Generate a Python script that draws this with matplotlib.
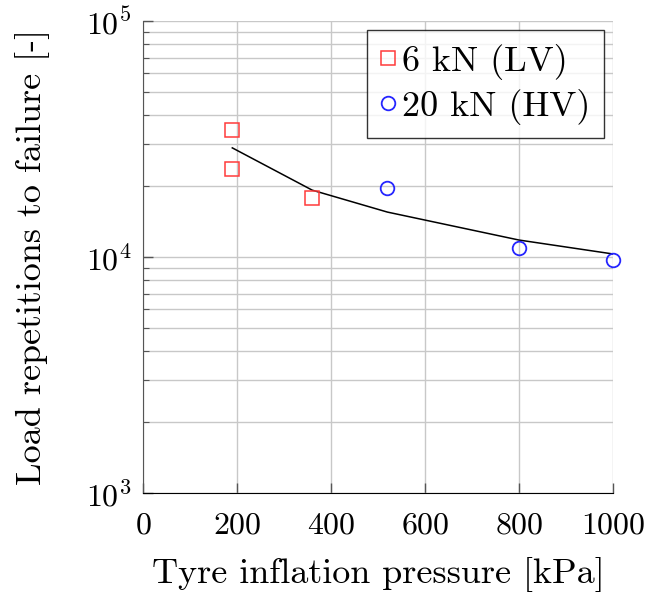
import numpy as np
import matplotlib
matplotlib.use("Agg")
import matplotlib.pyplot as plt
from matplotlib.ticker import LogLocator


# measured points
lv_pressure = [190, 190, 360]
lv_reps = [34500, 23600, 17700]
hv_pressure = [520, 800, 1000]
hv_reps = [19700, 10900, 9700]

# fitted curve
fit_pressure = [190, 360, 520, 800, 1000]
fit_reps = [29000, 19200, 15500, 11800, 10300]

plt.rcParams["font.family"] = "cmr10"
plt.rcParams["mathtext.fontset"] = "cm"
plt.rcParams["axes.formatter.use_mathtext"] = True

fig = plt.figure(figsize=(6.53, 5.99), dpi=100)
ax = fig.add_axes([143/653, 1 - 493/599, 470/653, 472/599])

grid_col = "#c8c8c8"
ax.set_yscale("log")
ax.set_xlim(0, 1000)
ax.set_ylim(1e3, 1e5)
ax.yaxis.set_minor_locator(LogLocator(base=10, subs=np.arange(2, 10)))
ax.set_xticks([0, 200, 400, 600, 800, 1000])
ax.grid(True, which="major", color=grid_col, lw=1)
ax.grid(True, which="minor", axis="y", color=grid_col, lw=1)
ax.set_axisbelow(True)

ax.plot(fit_pressure, fit_reps, color="black", lw=1.1, zorder=3)
ax.plot(lv_pressure, lv_reps, ls="none", marker="s", ms=9.5, mfc="none",
        mec="#ff3b3b", mew=1.1, label="6 kN (LV)", zorder=4, clip_on=False)
ax.plot(hv_pressure, hv_reps, ls="none", marker="o", ms=9.8, mfc="none",
        mec="#2525ff", mew=1.3, label="20 kN (HV)", zorder=4, clip_on=False)

for s in ["top", "right"]:
    ax.spines[s].set_visible(False)
ax.spines["left"].set_color("#555555")
ax.spines["bottom"].set_color("black")
ax.tick_params(which="both", direction="in", labelsize=23, colors="#555555",
               labelcolor="black")
ax.tick_params(which="major", length=7, width=1)
ax.tick_params(which="minor", length=4, width=0.8)
ax.tick_params(axis="x", pad=14)
ax.tick_params(axis="y", pad=8)

ax.set_xlabel("Tyre inflation pressure [kPa]", fontsize=26, labelpad=12)
ax.set_ylabel("Load repetitions to failure [-]", fontsize=26, labelpad=26)

leg = ax.legend(loc="upper right", bbox_to_anchor=(0.981, 0.981), fontsize=26,
                frameon=True, fancybox=False, edgecolor="black",
                handlelength=0.4, handletextpad=0.2, borderpad=0.38,
                labelspacing=0.25, borderaxespad=0)
leg.get_frame().set_linewidth(1.0)

fig.savefig("out.png", dpi=100)
